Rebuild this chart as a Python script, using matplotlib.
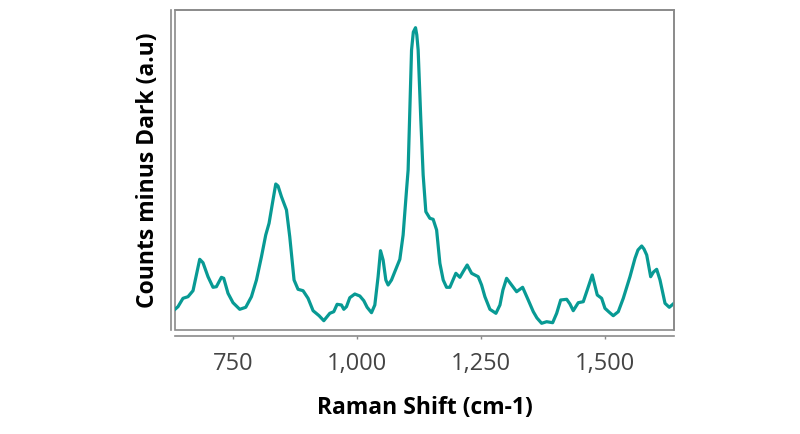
import matplotlib
matplotlib.use("Agg")
import matplotlib.pyplot as plt
from matplotlib.patches import Rectangle

plt.rcParams['font.family'] = ['Open Sans', 'DejaVu Sans']

raman_shift = [633.1, 639.1, 649.2, 659.3, 669.4, 682.9, 689.5, 699.6, 709.7, 716.5,
               726.6, 731.3, 739.9, 750.0, 763.5, 775.6, 787.1, 797.2, 807.3, 815.9,
               822.6, 829.4, 836.1, 840.7, 847.6, 857.7, 864.3, 873.0, 881.0, 891.1,
               901.2, 911.3, 923.4, 932.9, 945.0, 953.0, 959.7, 968.5, 973.2, 978.6,
               985.3, 995.4, 1005.5, 1013.5, 1020.2, 1029.0, 1035.7, 1042.3, 1047.2, 1052.4,
               1057.9, 1062.5, 1069.3, 1076.0, 1086.1, 1092.7, 1099.6, 1102.8, 1109.7, 1113.3,
               1117.7, 1120.3, 1123.0, 1128.4, 1133.1, 1138.5, 1146.6, 1153.2, 1160.2, 1166.8,
               1173.5, 1180.2, 1186.9, 1199.0, 1207.1, 1213.2, 1221.8, 1230.7, 1237.3, 1244.0,
               1250.8, 1257.5, 1267.6, 1279.7, 1287.8, 1293.8, 1301.2, 1311.3, 1321.4, 1333.5,
               1344.8, 1355.0, 1362.4, 1371.8, 1381.9, 1394.0, 1402.1, 1410.2, 1422.3, 1428.9,
               1435.5, 1445.6, 1455.7, 1463.7, 1473.8, 1483.9, 1492.7, 1499.4, 1507.5, 1516.1,
               1526.2, 1536.3, 1549.8, 1559.9, 1565.9, 1573.4, 1578.0, 1583.5, 1591.5, 1597.2,
               1603.6, 1610.3, 1620.4, 1629.0, 1638.5]

counts = [207, 233, 317, 333, 393, 707, 673, 533, 427, 433,
          527, 517, 367, 273, 207, 227, 333, 500, 733, 950,
          1067, 1267, 1460, 1440, 1333, 1200, 933, 500, 407, 393,
          317, 193, 143, 93, 167, 183, 257, 250, 207, 233,
          323, 360, 340, 293, 227, 173, 250, 533, 793, 700,
          500, 450, 500, 583, 707, 950, 1400, 1600, 2800, 2980,
          3023, 2950, 2800, 2100, 1550, 1183, 1117, 1107, 1000, 667,
          500, 427, 427, 567, 527, 580, 650, 567, 550, 533,
          450, 333, 207, 167, 250, 400, 517, 450, 383, 427,
          300, 183, 120, 67, 83, 73, 167, 300, 307, 260,
          193, 273, 283, 400, 550, 350, 317, 217, 180, 143,
          183, 317, 533, 717, 800, 840, 810, 750, 533, 580,
          607, 500, 267, 227, 267]

xticks = [750, 1000, 1250, 1500]
xtick_labels = ["750", "1,000", "1,250", "1,500"]

fig = plt.figure(figsize=(8, 4.34), dpi=100)
ax = fig.add_axes([175/800, (434-330)/434, 499/800, 320/434])

ax.plot(raman_shift, counts, color='#089A94', linewidth=2.3, solid_joinstyle='round')
ax.set_xlim(min(raman_shift), max(raman_shift))
ax.set_ylim(0, 3200)

gray = '#8a8a8a'
for s in ['top', 'right']:
    ax.spines[s].set_color(gray)
    ax.spines[s].set_linewidth(1.2)
ax.spines['left'].set_position(('outward', 3))
ax.spines['bottom'].set_position(('outward', 4))
ax.spines['left'].set_color(gray)
ax.spines['bottom'].set_color(gray)
ax.spines['left'].set_linewidth(1.2)
ax.spines['bottom'].set_linewidth(1.2)
ax.add_patch(Rectangle((0, 0), 1, 1, transform=ax.transAxes, fill=False,
                       edgecolor=gray, linewidth=1.2, clip_on=False))

ax.set_yticks([])
ax.set_xticks(xticks)
ax.set_xticklabels(xtick_labels, fontsize=17, color='#444444')
ax.tick_params(axis='x', length=2.5, width=1, color=gray, pad=9)

ax.set_xlabel("Raman Shift (cm-1)", fontsize=16.5, fontweight='bold', color='black', labelpad=15)
ax.set_ylabel("Counts minus Dark (a.u)", fontsize=16.5, fontweight='bold', color='black', labelpad=8)

fig.savefig("out.png", dpi=100)
